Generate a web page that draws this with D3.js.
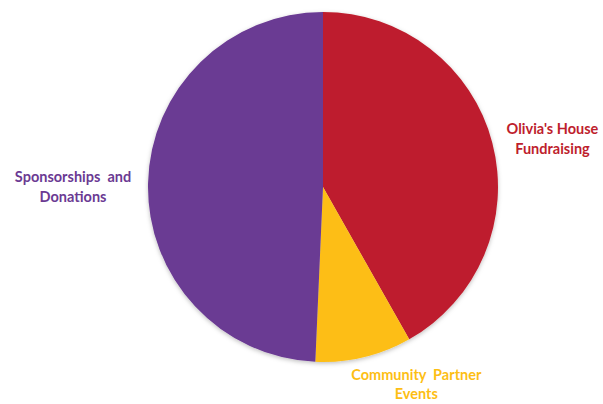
<!DOCTYPE html>
<html>
<head>
<meta charset="utf-8">
<script src="https://cdn.jsdelivr.net/npm/d3@7"></script>
<style>
    body { margin: 0; background: #fff; }
    .label { font-family: Lato, "Open Sans", sans-serif; font-weight: bold; font-size: 14.5px; }
</style>
</head>
<body>
<div id="chart"></div>
<script>
// chart data
const categories = ["Olivia's House Fundraising", "Community Partner Events", "Sponsorships and Donations"];
const shares = [41.8, 8.9, 49.3];
const labelLines = [["Olivia's House", "Fundraising"], ["Community  Partner", "Events"], ["Sponsorships  and", "Donations"]];
const colors = ["#BE1E2D", "#FDBE14", "#6B3A93"];

let width = 603, height = 404;
let cx = 323, cy = 187, radius = 175;

let svg = d3.select("#chart").append("svg")
    .attr("width", width)
    .attr("height", height);

// soft shadow round the pie
let defs = svg.append("defs");
let filter = defs.append("filter").attr("id", "shadow")
    .attr("x", "-10%").attr("y", "-10%").attr("width", "120%").attr("height", "120%");
filter.append("feDropShadow")
    .attr("dx", 0).attr("dy", 1.5)
    .attr("stdDeviation", 2)
    .attr("flood-color", "#000")
    .attr("flood-opacity", 0.25);

let g = svg.append("g")
    .attr("transform", `translate(${cx}, ${cy})`);

let data = categories.map((c, i) => ({name: c, value: shares[i], lines: labelLines[i], color: colors[i]}));

let pie = d3.pie()
    .sort(null)
    .value(d => d.value);

let arc = d3.arc()
    .innerRadius(0)
    .outerRadius(radius);

let arcs = pie(data);

g.append("g")
    .attr("filter", "url(#shadow)")
    .selectAll("path")
    .data(arcs)
    .enter().append("path")
    .attr("d", arc)
    .attr("fill", d => d.data.color);

// labels sit outside the slices; angle nudge and distance per label
let labelPlace = [{da: 2.3, r: 235}, {da: -12.1, r: 216}, {da: -0.6, r: 250}];

let labels = g.selectAll(".label")
    .data(arcs)
    .enter().append("text")
    .attr("class", "label")
    .attr("text-anchor", "middle")
    .attr("fill", d => d.data.color)
    .attr("transform", (d, i) => {
        let a = (d.startAngle + d.endAngle) / 2 + labelPlace[i].da * Math.PI / 180;
        let x = labelPlace[i].r * Math.sin(a);
        let y = -labelPlace[i].r * Math.cos(a);
        return `translate(${x}, ${y})`;
    });

labels.selectAll("tspan")
    .data(d => d.data.lines.map((l, j) => ({l, j})))
    .enter().append("tspan")
    .attr("x", 0)
    .attr("dy", d => d.j === 0 ? "-0.15em" : "1.35em")
    .style("white-space", "pre")
    .text(d => d.l);
</script>
</body>
</html>
